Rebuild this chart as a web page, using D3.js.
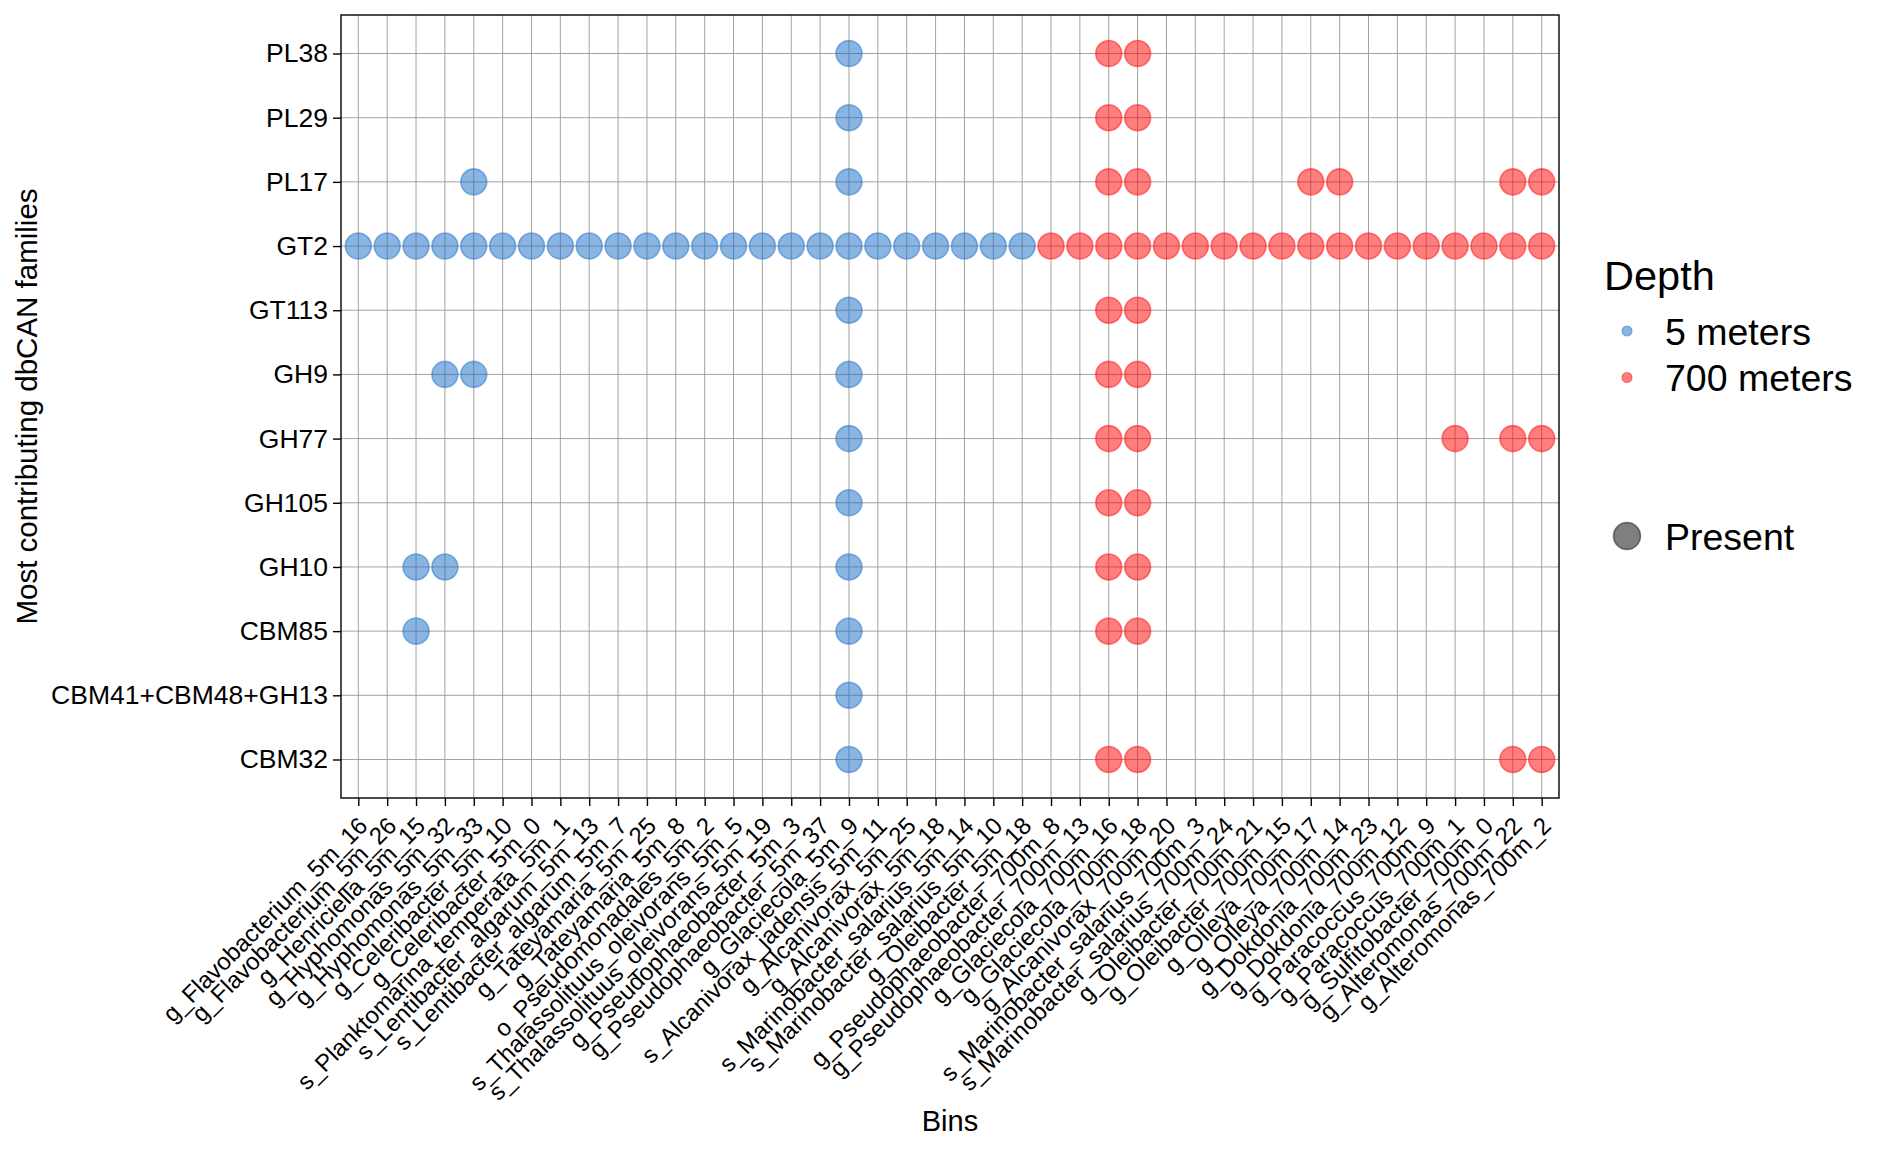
<!DOCTYPE html>
<html>
<head>
<meta charset="utf-8">
<script src="https://cdn.jsdelivr.net/npm/d3@7"></script>
<style>
  html, body { margin: 0; padding: 0; background: #fff; }
  svg { display: block; font-family: "Liberation Sans", Arial, Helvetica, sans-serif; }
</style>
</head>
<body>
<svg id="chart" width="1881" height="1152"></svg>
<script>
// ---------------- DATA ----------------
const bins = [
  "g_Flavobacterium_5m_16", "g_Flavobacterium_5m_26", "g_Henriciella_5m_15", "g_Hyphomonas_5m_32",
  "g_Hyphomonas_5m_33", "g_Celeribacter_5m_10", "g_Celeribacter_5m_0", "s_Planktomarina_temperata_5m_1",
  "s_Lentibacter_algarum_5m_13", "s_Lentibacter_algarum_5m_7", "g_Tateyamaria_5m_25", "g_Tateyamaria_5m_8",
  "o_Pseudomonadales_5m_2", "s_Thalassolituus_oleivorans_5m_5", "s_Thalassolituus_oleivorans_5m_19",
  "g_Pseudophaeobacter_5m_3", "g_Pseudophaeobacter_5m_37", "g_Glaciecola_5m_9", "s_Alcanivorax_jadensis_5m_11",
  "g_Alcanivorax_5m_25", "g_Alcanivorax_5m_18", "s_Marinobacter_salarius_5m_14", "s_Marinobacter_salarius_5m_10",
  "g_Oleibacter_5m_18",
  "g_Pseudophaeobacter_700m_8", "g_Pseudophaeobacter_700m_13", "g_Glaciecola_700m_16", "g_Glaciecola_700m_18",
  "g_Alcanivorax_700m_20", "s_Marinobacter_salarius_700m_3", "s_Marinobacter_salarius_700m_24",
  "g_Oleibacter_700m_21", "g_Oleibacter_700m_15", "g_Olleya_700m_17", "g_Olleya_700m_14",
  "g_Dokdonia_700m_23", "g_Dokdonia_700m_12", "g_Paracoccus_700m_9", "g_Paracoccus_700m_1",
  "g_Sulfitobacter_700m_0", "g_Alteromonas_700m_22", "g_Alteromonas_700m_2"
];

// depth of each bin (same order as bins)
const binDepths = [
  "5 meters","5 meters","5 meters","5 meters","5 meters","5 meters","5 meters","5 meters",
  "5 meters","5 meters","5 meters","5 meters","5 meters","5 meters","5 meters","5 meters",
  "5 meters","5 meters","5 meters","5 meters","5 meters","5 meters","5 meters","5 meters",
  "700 meters","700 meters","700 meters","700 meters","700 meters","700 meters","700 meters",
  "700 meters","700 meters","700 meters","700 meters","700 meters","700 meters","700 meters",
  "700 meters","700 meters","700 meters","700 meters"
];

// y categories, top to bottom
const families = ["PL38", "PL29", "PL17", "GT2", "GT113", "GH9", "GH77", "GH105", "GH10", "CBM85", "CBM41+CBM48+GH13", "CBM32"];

const depthLevels = ["5 meters", "700 meters"];
const sizeLevels = ["Present"];

// bins where each family is present
const presentPL38 = ["g_Glaciecola_5m_9", "g_Glaciecola_700m_16", "g_Glaciecola_700m_18"];
const presentPL29 = ["g_Glaciecola_5m_9", "g_Glaciecola_700m_16", "g_Glaciecola_700m_18"];
const presentPL17 = ["g_Hyphomonas_5m_33", "g_Glaciecola_5m_9", "g_Glaciecola_700m_16", "g_Glaciecola_700m_18",
  "g_Olleya_700m_17", "g_Olleya_700m_14", "g_Alteromonas_700m_22", "g_Alteromonas_700m_2"];
const presentGT2 = bins.slice();
const presentGT113 = ["g_Glaciecola_5m_9", "g_Glaciecola_700m_16", "g_Glaciecola_700m_18"];
const presentGH9 = ["g_Hyphomonas_5m_32", "g_Hyphomonas_5m_33", "g_Glaciecola_5m_9", "g_Glaciecola_700m_16", "g_Glaciecola_700m_18"];
const presentGH77 = ["g_Glaciecola_5m_9", "g_Glaciecola_700m_16", "g_Glaciecola_700m_18",
  "g_Paracoccus_700m_1", "g_Alteromonas_700m_22", "g_Alteromonas_700m_2"];
const presentGH105 = ["g_Glaciecola_5m_9", "g_Glaciecola_700m_16", "g_Glaciecola_700m_18"];
const presentGH10 = ["g_Henriciella_5m_15", "g_Hyphomonas_5m_32", "g_Glaciecola_5m_9", "g_Glaciecola_700m_16", "g_Glaciecola_700m_18"];
const presentCBM85 = ["g_Henriciella_5m_15", "g_Glaciecola_5m_9", "g_Glaciecola_700m_16", "g_Glaciecola_700m_18"];
const presentCBM41 = ["g_Glaciecola_5m_9"];
const presentCBM32 = ["g_Glaciecola_5m_9", "g_Glaciecola_700m_16", "g_Glaciecola_700m_18",
  "g_Alteromonas_700m_22", "g_Alteromonas_700m_2"];

const presenceLists = [presentPL38, presentPL29, presentPL17, presentGT2, presentGT113, presentGH9,
  presentGH77, presentGH105, presentGH10, presentCBM85, presentCBM41, presentCBM32];

// ---------------- BUILD ----------------
const depthOf = new Map(bins.map((b, i) => [b, binDepths[i]]));
const points = [];
families.forEach((f, i) => {
  presenceLists[i].forEach(b => points.push({ family: f, bin: b, depth: depthOf.get(b) }));
});

const svg = d3.select("#chart");
const panel = { left: 341, right: 1559, top: 15, bottom: 798 };

const x = d3.scalePoint().domain(bins).range([panel.left, panel.right]).padding(0.6);
const y = d3.scalePoint().domain(families).range([panel.top, panel.bottom]).padding(0.6);

const baseColor = d3.scaleOrdinal().domain(depthLevels).range(["rgb(22,107,198)", "rgb(255,0,0)"]);

// grid
const grid = svg.append("g");
grid.selectAll("line.vx").data(bins).join("line")
  .attr("x1", d => x(d)).attr("x2", d => x(d))
  .attr("y1", panel.top).attr("y2", panel.bottom)
  .attr("stroke", "#999").attr("stroke-width", 0.9);
grid.selectAll("line.hy").data(families).join("line")
  .attr("y1", d => y(d)).attr("y2", d => y(d))
  .attr("x1", panel.left).attr("x2", panel.right)
  .attr("stroke", "#999").attr("stroke-width", 0.9);

// points
svg.append("g").selectAll("circle").data(points).join("circle")
  .attr("cx", d => x(d.bin)).attr("cy", d => y(d.family))
  .attr("r", 13)
  .attr("fill", d => baseColor(d.depth)).attr("fill-opacity", 0.5)
  .attr("stroke", d => baseColor(d.depth)).attr("stroke-opacity", 0.45)
  .attr("stroke-width", 1.6);

// panel border
svg.append("rect")
  .attr("x", panel.left).attr("y", panel.top)
  .attr("width", panel.right - panel.left).attr("height", panel.bottom - panel.top)
  .attr("fill", "none").attr("stroke", "#000").attr("stroke-width", 1.4);

// axes
const xAxis = svg.append("g").attr("transform", `translate(0,${panel.bottom})`)
  .call(d3.axisBottom(x).tickSize(8).tickSizeOuter(0));
xAxis.select(".domain").remove();
xAxis.selectAll(".tick line").attr("stroke", "#000").attr("stroke-width", 1.4);
xAxis.selectAll(".tick text")
  .attr("font-size", 24).attr("fill", "#000")
  .attr("font-family", "Liberation Sans, Arial, sans-serif")
  .attr("text-anchor", "end")
  .attr("x", 0).attr("y", 0).attr("dy", "0.72em")
  .attr("transform", "translate(-2,17) rotate(-45)");

const yAxis = svg.append("g").attr("transform", `translate(${panel.left},0)`)
  .call(d3.axisLeft(y).tickSize(8).tickSizeOuter(0));
yAxis.select(".domain").remove();
yAxis.selectAll(".tick line").attr("stroke", "#000").attr("stroke-width", 1.4);
yAxis.selectAll(".tick text")
  .attr("font-size", 26.5).attr("fill", "#000")
  .attr("font-family", "Liberation Sans, Arial, sans-serif")
  .attr("x", -13);

// axis titles
svg.append("text").attr("x", (panel.left + panel.right) / 2).attr("y", 1131)
  .attr("text-anchor", "middle").attr("font-size", 29).text("Bins");
svg.append("text")
  .attr("transform", `translate(37,${(panel.top + panel.bottom) / 2}) rotate(-90)`)
  .attr("text-anchor", "middle").attr("font-size", 29.5).text("Most contributing dbCAN families");

// legends
const lg = svg.append("g");
lg.append("text").attr("x", 1604).attr("y", 290).attr("font-size", 41.5).text("Depth");
const lgItems = lg.selectAll("g.item").data(depthLevels).join("g")
  .attr("transform", (d, i) => `translate(0,${331 + i * 46.5})`);
lgItems.append("circle").attr("cx", 1627).attr("cy", 0).attr("r", 5)
  .attr("fill", d => baseColor(d)).attr("fill-opacity", 0.5)
  .attr("stroke", d => baseColor(d)).attr("stroke-opacity", 0.45).attr("stroke-width", 1.2);
lgItems.append("text").attr("x", 1665).attr("y", 0).attr("dy", "0.36em")
  .attr("font-size", 37.5).text(d => d);

const sz = lg.selectAll("g.size").data(sizeLevels).join("g")
  .attr("transform", `translate(0,536)`);
sz.append("circle").attr("cx", 1627).attr("cy", 0).attr("r", 13.5)
  .attr("fill", "#000").attr("fill-opacity", 0.5)
  .attr("stroke", "#000").attr("stroke-opacity", 0.45).attr("stroke-width", 1.6);
sz.append("text").attr("x", 1665).attr("y", 0).attr("dy", "0.36em")
  .attr("font-size", 37.5).text(d => d);
</script>
</body>
</html>
